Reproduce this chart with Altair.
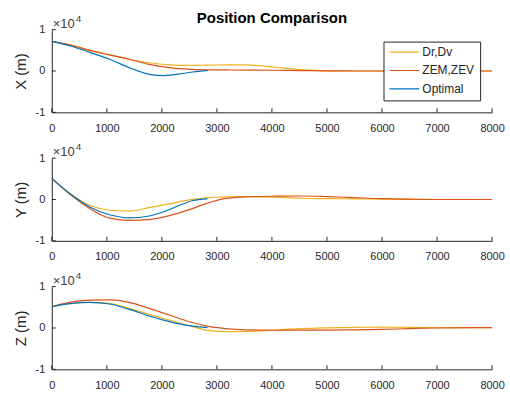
import altair as alt
import pandas as pd

FONT = "Liberation Sans"
AX = "#262626"

SERIES = ["Dr,Dv", "ZEM,ZEV", "Optimal"]
COLORS = ["#EDB120", "#D95319", "#0072BD"]

X_TICKS = [0, 1000, 2000, 3000, 4000, 5000, 6000, 7000, 8000]
Y_TICKS = [-10000, 0, 10000]

T_LONG = [0, 325, 690, 1050, 1410, 1770, 2135, 2500, 2800, 3160, 3520, 4060, 4500, 5000, 5500, 6000, 6500, 7000, 8000]
T_OPT = [0, 325, 690, 1050, 1410, 1770, 2045, 2380, 2560, 2830]

X_DR = [7150, 6300, 5000, 3900, 2850, 2000, 1500, 1350, 1400, 1500, 1500, 900, 350, 50, 0, 0, 0, 0, 0]
X_ZEM = [7150, 6300, 5000, 3900, 2850, 1600, 800, 400, 280, 250, 220, 180, 100, 30, 0, 0, 0, 0, 0]
X_OPT = [7150, 6100, 4500, 2850, 800, -800, -1100, -600, -250, 150]

Y_DR = [5100, 1500, -1400, -2600, -2800, -1950, -1050, -100, 400, 650, 700, 550, 300, 200, 150, 100, 50, 0, 0]
Y_ZEM = [5100, 1300, -2200, -4500, -5050, -4850, -3900, -2450, -1000, 250, 650, 800, 850, 700, 450, 200, 80, 0, 0]
Y_OPT = [5100, 1450, -1800, -3700, -4450, -4000, -2900, -1100, -250, 150]

Z_DR = [5200, 5900, 6200, 5950, 4750, 3300, 1900, 550, -500, -900, -850, -500, -150, 50, 150, 200, 150, 100, 100]
Z_ZEM = [5200, 6200, 6750, 6800, 6200, 4750, 3150, 1500, 500, -150, -450, -550, -500, -500, -450, -350, -150, 0, 100]
Z_OPT = [5200, 5900, 6200, 5800, 4500, 2900, 1850, 800, 450, 100]

W, H = 442, 83


def make_df(dr, zem, opt):
    rows = []
    for name, ts, vs in [(SERIES[0], T_LONG, dr), (SERIES[1], T_LONG, zem), (SERIES[2], T_OPT, opt)]:
        rows += [{"t": t, "v": v, "s": name} for t, v in zip(ts, vs)]
    return pd.DataFrame(rows)


def panel(df, ylabel, top=False):
    xenc = alt.X("t:Q", scale=alt.Scale(domain=[0, 8000], nice=False, zero=False),
                 axis=alt.Axis(values=X_TICKS, format="d", title=None, grid=False, ticks=False,
                               tickSize=0, labelPadding=10, labelFontSize=11, labelFont=FONT,
                               labelColor=AX, domainColor=AX, domainWidth=1, labelFlush=False,
                               labelOverlap=False))
    yenc = alt.Y("v:Q", scale=alt.Scale(domain=[-10000, 10000], nice=False),
                 axis=alt.Axis(values=Y_TICKS, labelExpr="'' + datum.value / 10000", title=ylabel,
                               grid=False, ticks=False, tickSize=0, labelPadding=7, labelFontSize=11,
                               labelFont=FONT, labelColor=AX, domainColor=AX, domainWidth=1,
                               titleFont=FONT, titleFontSize=15, titleFontWeight="normal",
                               titleColor=AX, titlePadding=7, labelFlush=False))
    if top:
        leg = alt.Legend(title=None, orient="none", legendX=333, legendY=12, symbolType="stroke",
                         symbolSize=900, symbolStrokeWidth=1.2, clipHeight=11, rowPadding=5.5,
                         padding=5, labelOffset=2, labelFontSize=12, labelFont=FONT,
                         labelColor=AX, strokeColor=AX, fillColor="white", cornerRadius=0)
    else:
        leg = None
    color = alt.Color("s:N", scale=alt.Scale(domain=SERIES, range=COLORS), legend=leg)
    lines = alt.Chart(df).mark_line(strokeWidth=1.2, interpolate="monotone").encode(
        x=xenc, y=yenc, color=color)
    xt = alt.Chart(pd.DataFrame({"t": X_TICKS})).mark_rule(color=AX, strokeWidth=1).encode(
        x=xenc, y=alt.value(H), y2=alt.value(H - 4))
    yt = alt.Chart(pd.DataFrame({"v": Y_TICKS})).mark_rule(color=AX, strokeWidth=1).encode(
        y=yenc, x=alt.value(0), x2=alt.value(4))
    one = pd.DataFrame({"k": [0]})
    ex1 = alt.Chart(one).mark_text(text="×10", align="left", baseline="alphabetic", fontSize=13,
                                   font=FONT, color="#404040").encode(x=alt.value(1), y=alt.value(-2))
    ex2 = alt.Chart(one).mark_text(text="4", align="left", baseline="alphabetic", fontSize=10,
                                   font=FONT, color="#404040").encode(x=alt.value(24), y=alt.value(-8))
    layers = [lines, xt, yt, ex1, ex2]
    if top:
        ttl = alt.Chart(one).mark_text(text="Position Comparison", align="center",
                                       baseline="alphabetic", fontSize=15, fontWeight="bold",
                                       font=FONT, color="#000000").encode(
            x=alt.value(W / 2), y=alt.value(-7))
        layers.append(ttl)
    return alt.layer(*layers).properties(width=W, height=H)


p1 = panel(make_df(X_DR, X_ZEM, X_OPT), "X (m)", top=True)
p2 = panel(make_df(Y_DR, Y_ZEM, Y_OPT), "Y (m)")
p3 = panel(make_df(Z_DR, Z_ZEM, Z_OPT), "Z (m)")

chart = alt.vconcat(p1, p2, p3, spacing=46, bounds="flush").resolve_scale(
    color="independent").resolve_legend(color="independent").properties(
    padding={"left": 13, "top": 10, "right": 5, "bottom": 5},
    background="white",
).configure_view(stroke=None)

chart.save("out.html", embed_options={"renderer": "svg", "actions": False})
